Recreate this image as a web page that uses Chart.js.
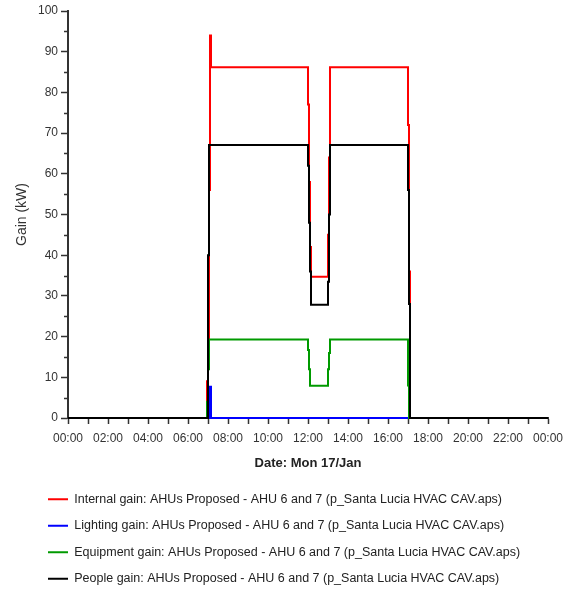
<!DOCTYPE html>
<html>
<head>
<meta charset="utf-8">
<script src="https://cdn.jsdelivr.net/npm/chart.js@4"></script>
<style>
  html, body { margin: 0; padding: 0; background: #fff; }
  canvas { display: block; }
</style>
</head>
<body>
<canvas id="gain-chart" width="581" height="595"></canvas>
<script>
// time of day in hours, each value holds until the next step
const hours     = [0, 6.95, 7.0, 7.05, 7.1, 7.15, 12.0, 12.05, 12.1, 12.15, 13.0, 13.05, 13.1, 17.0, 17.05, 17.1, 24];
const internal  = [0, 9,    19,  56,   94,  86.2, 77,   58,    42,   34.7,  45,   64,    86.2, 72,   36,    0,    0];
const lighting  = [0, 0,    0,   7.7,  7.7, 0,    0,    0,     0,    0,     0,    0,     0,    0,    0,     0,    0];
const equipment = [0, 4,    12,  19.3, 19.3, 19.3, 16.7, 12,   7.9,  7.9,   12,   16,    19.3, 8,    0,     0,    0];
const people    = [0, 0,    40,  67.1, 67.1, 67.1, 62,   48,   36,   27.8,  33.5, 50,    67.1, 56,   28,    0,    0];

const seriesNames = [
    'Internal gain: AHUs Proposed - AHU 6 and 7 (p_Santa Lucia HVAC CAV.aps)',
    'Lighting gain: AHUs Proposed - AHU 6 and 7 (p_Santa Lucia HVAC CAV.aps)',
    'Equipment gain: AHUs Proposed - AHU 6 and 7 (p_Santa Lucia HVAC CAV.aps)',
    'People gain: AHUs Proposed - AHU 6 and 7 (p_Santa Lucia HVAC CAV.aps)'
];
const seriesColors = ['#ff0000', '#0000ff', '#009a00', '#000000'];

const AXIS = '#333333';
Chart.defaults.font.family = '"Liberation Sans", Arial, sans-serif';
Chart.defaults.color = AXIS;

function toPoints(values) {
    return hours.map((h, i) => ({ x: h, y: values[i] }));
}

function hourLabel(h) {
    return String(h % 24).padStart(2, '0') + ':00';
}

// short ticks halfway between the labelled ones on the gain axis
const minorTicks = {
    id: 'minorTicks',
    afterDraw(chart) {
        const y = chart.scales.y;
        const ctx = chart.ctx;
        ctx.save();
        ctx.strokeStyle = AXIS;
        ctx.lineWidth = 1.5;
        ctx.beginPath();
        for (let v = y.min + 5; v < y.max; v += 10) {
            const py = Math.round(y.getPixelForValue(v)) + 0.5;
            ctx.moveTo(y.right - 4, py);
            ctx.lineTo(y.right, py);
        }
        ctx.stroke();
        ctx.restore();
    }
};

const allSeries = [internal, lighting, equipment, people];

new Chart(document.getElementById('gain-chart'), {
    type: 'line',
    data: {
        datasets: allSeries.map((values, i) => ({
            label: seriesNames[i],
            data: toPoints(values),
            borderColor: seriesColors[i],
            backgroundColor: seriesColors[i],
            borderWidth: 2,
            pointRadius: 0,
            stepped: true,
            clip: 3,
            order: allSeries.length - 1 - i
        }))
    },
    options: {
        responsive: false,
        animation: false,
        layout: { padding: { left: 34, right: 33, top: 11, bottom: 0 } },
        plugins: {
            tooltip: { enabled: false },
            legend: {
                position: 'bottom',
                align: 'start',
                labels: {
                    usePointStyle: true,
                    pointStyle: 'line',
                    pointStyleWidth: 20,
                    padding: 14,
                    color: '#222',
                    font: { size: 12.5 },
                    sort: (a, b) => a.datasetIndex - b.datasetIndex
                }
            }
        },
        scales: {
            x: {
                type: 'linear',
                min: 0,
                max: 24,
                afterFit: s => { s.height = 61; },
                border: { display: true, color: AXIS, width: 2 },
                grid: { drawOnChartArea: false, tickLength: 6, tickColor: AXIS, tickWidth: 1.5 },
                ticks: {
                    stepSize: 1,
                    autoSkip: false,
                    maxRotation: 0,
                    padding: 7,
                    font: { size: 12 },
                    callback: v => (v % 2 === 0 ? hourLabel(v) : '')
                },
                title: {
                    display: true,
                    text: 'Date: Mon 17/Jan',
                    color: '#222',
                    font: { size: 13, weight: 'bold' },
                    padding: { top: 0, bottom: 8 }
                }
            },
            y: {
                min: 0,
                max: 100,
                afterFit: s => { s.width = 34; },
                border: { display: true, color: AXIS, width: 2 },
                grid: { drawOnChartArea: false, tickLength: 7, tickColor: AXIS, tickWidth: 1.5 },
                ticks: { stepSize: 10, padding: 3, font: { size: 12 } },
                title: {
                    display: true,
                    text: 'Gain (kW)',
                    font: { size: 14 },
                    padding: { top: -20, bottom: 0 }
                }
            }
        }
    },
    plugins: [minorTicks]
});
</script>
</body>
</html>
